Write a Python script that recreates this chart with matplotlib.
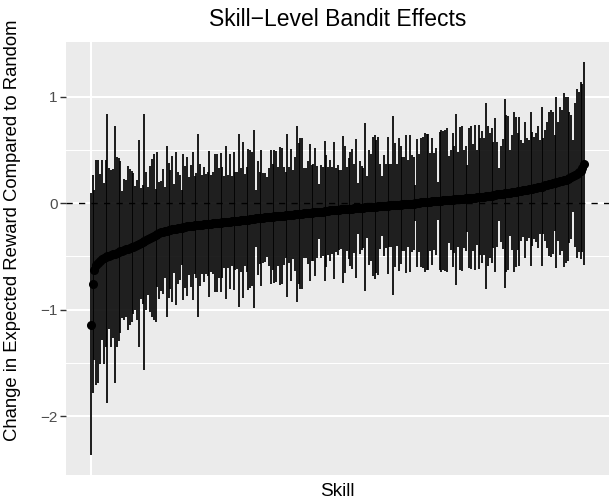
import matplotlib.pyplot as plt
import numpy as np

plt.rcParams['font.family'] = ['Liberation Sans', 'DejaVu Sans']

# skill effects, sorted by estimate
estimate = [
    -1.15, -0.76, -0.63, -0.58, -0.56, -0.545, -0.53, -0.52, -0.51, -0.50,
    -0.495, -0.49, -0.48, -0.475, -0.47, -0.46, -0.455, -0.45, -0.44, -0.435,
    -0.43, -0.42, -0.415, -0.41, -0.40, -0.39, -0.385, -0.38, -0.37, -0.36,
    -0.35, -0.34, -0.33, -0.32, -0.31, -0.30, -0.29, -0.28, -0.275, -0.27,
    -0.265, -0.26, -0.255, -0.25, -0.245, -0.24, -0.24, -0.235, -0.23, -0.23,
    -0.225, -0.225, -0.22, -0.22, -0.215, -0.215, -0.21, -0.21, -0.21, -0.205,
    -0.205, -0.20, -0.20, -0.20, -0.195, -0.195, -0.19, -0.19, -0.19, -0.185,
    -0.185, -0.18, -0.18, -0.18, -0.175, -0.175, -0.17, -0.17, -0.17, -0.165,
    -0.165, -0.16, -0.16, -0.16, -0.155, -0.155, -0.15, -0.15, -0.15, -0.145,
    -0.145, -0.14, -0.14, -0.14, -0.135, -0.135, -0.13, -0.13, -0.13, -0.125,
    -0.125, -0.125, -0.12, -0.12, -0.12, -0.115, -0.115, -0.11, -0.11, -0.11,
    -0.105, -0.105, -0.10, -0.10, -0.10, -0.095, -0.095, -0.09, -0.09, -0.09,
    -0.085, -0.085, -0.085, -0.08, -0.08, -0.08, -0.075, -0.075, -0.075, -0.07,
    -0.07, -0.07, -0.065, -0.065, -0.065, -0.06, -0.06, -0.06, -0.055, -0.055, -0.055,
    -0.055, -0.05, -0.05, -0.05, -0.045, -0.045, -0.045, -0.04, -0.04, -0.04, -0.04,
    -0.035, -0.035, -0.035, -0.03, -0.03, -0.03, -0.025, -0.025, -0.025, -0.02, -0.02,
    -0.02, -0.02, -0.015, -0.015, -0.015, -0.01, -0.01, -0.01, -0.005, -0.005, -0.005,
    -0.005, 0.0, 0.0, 0.0, 0.005, 0.005, 0.005, 0.01, 0.01, 0.01,
    0.015, 0.015, 0.015, 0.02, 0.02, 0.02, 0.025, 0.025, 0.025, 0.03,
    0.03, 0.03, 0.035, 0.035, 0.035, 0.04, 0.04, 0.04, 0.045, 0.045,
    0.045, 0.05, 0.05, 0.05, 0.055, 0.055, 0.06, 0.06, 0.06, 0.065,
    0.065, 0.07, 0.07, 0.075, 0.075, 0.08, 0.08, 0.085, 0.085, 0.09,
    0.09, 0.095, 0.095, 0.10, 0.10, 0.105, 0.11, 0.11, 0.115, 0.12,
    0.12, 0.125, 0.13, 0.13, 0.135, 0.14, 0.145, 0.15, 0.15, 0.155,
    0.16, 0.165, 0.17, 0.175, 0.18, 0.185, 0.19, 0.195, 0.20, 0.205,
    0.21, 0.215, 0.22, 0.23, 0.235, 0.245, 0.255, 0.265, 0.275, 0.29,
    0.305, 0.33, 0.37,
]

# top end of each skill's interval, same order
upper = [
    0.09, 0.26, 0.12, 0.40, 0.40, 0.27, 0.40, 0.19, 0.40, 0.84,
    0.33, 0.31, 0.32, 0.72, 0.43, 0.42, 0.39, 0.11, 0.23, 0.22,
    0.35, 0.32, 0.30, 0.28, 0.16, 0.22, 0.59, 0.14,
    0.17, 0.84, 0.29, 0.15, 0.35, 0.41, 0.46, 0.13, 0.48, 0.20,
    0.21, 0.32, 0.15, 0.54, 0.38, 0.31, 0.44, 0.18, 0.48, 0.29,
    0.26, 0.12, 0.46, 0.35, 0.43, 0.24, 0.36, 0.48, 0.25, 0.28,
    0.65, 0.37, 0.26, 0.34, 0.27, 0.29, 0.49, 0.26, 0.29, 0.46,
    0.46, 0.33, 0.47, 0.34, 0.25, 0.54, 0.26, 0.46, 0.25, 0.48,
    0.29, 0.29, 0.65, 0.33, 0.57, 0.27, 0.34, 0.51, 0.50, 0.48,
    0.69, 0.12,
    0.39, 0.29, 0.50, 0.28, 0.28, 0.24, 0.33, 0.50, 0.37, 0.50,
    0.49, 0.34, 0.53, 0.52, 0.34, 0.29, 0.65, 0.34, 0.51, 0.31,
    0.43, 0.72, 0.56, 0.61, 0.61, 0.33, 0.33, 0.39, 0.55, 0.36,
    0.37, 0.52, 0.35, 0.18, 0.36, 0.34, 0.58, 0.45, 0.34, 0.40,
    0.34, 0.57, 0.33, 0.36, 0.31, 0.31, 0.63, 0.54, 0.34, 0.42,
    0.48, 0.51, 0.37, 0.60, 0.19, 0.39, 0.35, 0.33, 0.75, 0.25,
    0.50, 0.46, 0.62, 0.64, 0.59, 0.62, 0.37, 0.25, 0.45, 0.37,
    0.62, 0.37, 0.37, 0.82, 0.56, 0.37, 0.61, 0.54, 0.43, 0.43,
    0.64, 0.40, 0.64, 0.45, 0.43, 0.17, 0.60, 0.46, 0.61, 0.62,
    0.66, 0.65, 0.65,
    0.47, 0.61, 0.47, 0.52, 0.20, 0.67, 0.69, 0.68, 0.69, 0.70,
    0.44, 0.50, 0.66, 0.54, 0.84, 0.48, 0.71, 0.72, 0.50, 0.54,
    0.36, 0.70, 0.72, 0.55, 0.73, 0.50, 0.73, 0.61, 0.68, 0.61,
    0.94, 0.72, 0.66, 0.70, 0.57, 0.80, 0.57, 0.33, 0.54, 0.60,
    0.98, 0.83, 0.82, 0.50, 0.64, 0.85, 0.81, 0.66, 0.81, 0.59,
    0.56, 0.76, 0.61, 0.59, 0.85, 0.67, 0.62, 0.66, 0.72, 0.59,
    0.90, 0.61, 0.69, 0.76, 0.85, 0.87, 0.85, 0.64, 1.00, 0.76,
    0.90, 0.87, 1.03, 1.00, 1.00, 0.85, 0.83, 0.59, 0.94, 1.07,
    1.04, 1.14, 1.12, 1.32,
]

# bottom end of the interval for the lowest-ranked skills
lower_left = [
    -2.37, -1.78, -1.47, -1.71, -1.69, -1.51, -1.29, -1.51, -1.35, -1.88,
    -1.18, -1.35, -1.27, -1.69, -1.35, -1.30, -1.22, -1.08, -1.10, -1.07,
    -1.19, -1.15, -1.12, -1.04, -1.00, -1.10, -1.35, -0.90, -0.95, -1.57,
    -1.00, -0.86, -1.02, -1.07, -1.10, -1.12, -0.79, -0.90, -0.83, -0.85,
    -0.70, -1.07,
]

y_ticks = [-2, -1, 0, 1]

n = min(len(estimate), len(upper))
est = np.array(estimate[:n])
hi = np.array(upper[:n])
lo = 2 * est - hi  # rest of the intervals are symmetric around the estimate
lo[:len(lower_left)] = lower_left
x = np.arange(1, n + 1)

fig = plt.figure(figsize=(6.11, 5.01), dpi=100)
ax = fig.add_axes([66 / 611, 1 - 475 / 501, (609 - 66) / 611, (475 - 42) / 501])
ax.set_facecolor('#EBEBEB')
for s in ax.spines.values():
    s.set_visible(False)

pad = 0.05 * (n - 1)
ax.set_xlim(1 - pad, n + pad)
ax.set_ylim(-2.554, 1.512)
ax.set_yticks(y_ticks)
ax.set_yticks([-1.5, -0.5, 0.5], minor=True)
ax.set_xticks([1])
ax.set_axisbelow(True)
ax.grid(True, which='major', color='white', lw=1.5)
ax.grid(True, which='minor', axis='y', color='white', lw=0.75)
ax.tick_params(axis='x', length=0, labelbottom=False)
ax.tick_params(axis='y', which='major', length=4, width=1, color='#333333',
               labelcolor='#4D4D4D', labelsize=11, pad=2)
ax.tick_params(axis='y', which='minor', length=0)

ax.axhline(0, color='black', lw=1, ls=(0, (4.5, 4.5)), zorder=1)
ax.vlines(x, lo, hi, color='black', lw=1.25, zorder=2)
ax.plot(x, est, 'o', color='black', ms=5.5, zorder=3)

fig.text(337.5 / 611, 1 - 19 / 501, 'Skill\u2212Level Bandit Effects',
         ha='center', va='center', fontsize=16.5)
fig.text(337.5 / 611, 1 - 491 / 501, 'Skill', ha='center', va='center', fontsize=13.7)
fig.text(13 / 611, 1 - 230 / 501, 'Change in Expected Reward Compared to Random',
         ha='center', va='center', rotation=90, fontsize=13.3)

fig.savefig('out.png', dpi=100)
